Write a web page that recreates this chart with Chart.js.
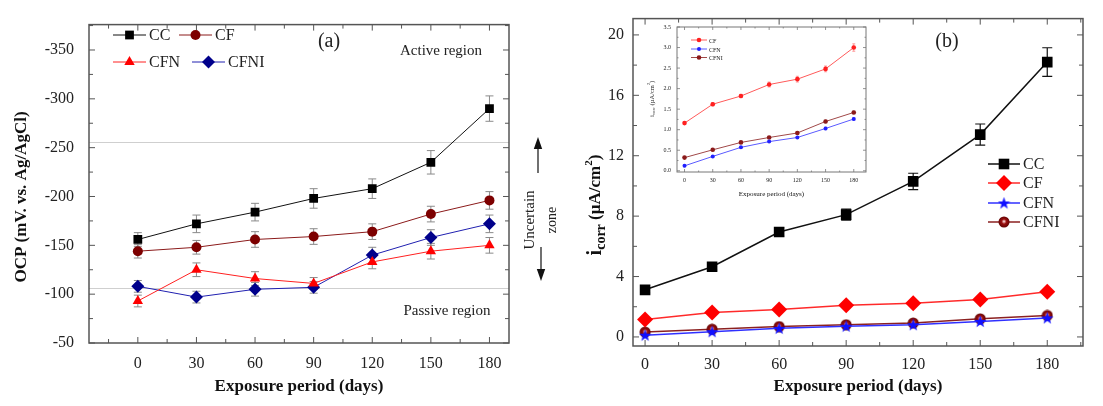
<!DOCTYPE html>
<html>
<head>
<meta charset="utf-8">
<script src="https://cdn.jsdelivr.net/npm/chart.js@4.4.0/dist/chart.umd.min.js"></script>
<style>
html, body { margin: 0; padding: 0; background: #fff; }
#wrap { position: relative; width: 1103px; height: 406px; overflow: hidden; background: #fff; }
canvas { position: absolute; }
#ocp { left: 0; top: 0; width: 560px; height: 406px; }
#icorr { left: 560px; top: 0; width: 543px; height: 406px; }
#inset { left: 640px; top: 15px; width: 240px; height: 190px; }
</style>
</head>
<body>
<div id="wrap">
  <canvas id="ocp" width="560" height="406"></canvas>
  <canvas id="icorr" width="543" height="406"></canvas>
  <canvas id="inset" width="240" height="190"></canvas>
</div>
<script>
// exposure period, days
const days = [0, 30, 60, 90, 120, 150, 180];

// (a) OCP, mV vs. Ag/AgCl
const ocpCC   = [-156, -172, -184, -198, -208, -235, -290];
const ocpCF   = [-144, -148, -156, -159, -164, -182, -196];
const ocpCFN  = [-93, -125, -116, -111, -133, -144, -150];
const ocpCFNI = [-108, -97, -105, -107, -140, -158, -172];
const ocpErrCC   = [7, 9, 9, 10, 10, 12, 13];
const ocpErrCF   = [7, 7, 8, 8, 8, 8, 9];
const ocpErrCFN  = [6, 7, 7, 6, 7, 8, 8];
const ocpErrCFNI = [6, 6, 7, 6, 8, 8, 9];
const ocpTicks = [-350, -300, -250, -200, -150, -100, -50];
// ASTM C876 limits converted to Ag/AgCl
const ocpLimits = [-256, -106];

// (b) corrosion current density, uA/cm2
const icorrCC   = [3.12, 4.65, 6.95, 8.1, 10.3, 13.4, 18.2];
const icorrCF   = [1.16, 1.62, 1.82, 2.1, 2.23, 2.48, 3.0];
const icorrCFN  = [0.12, 0.35, 0.57, 0.71, 0.81, 1.03, 1.26];
const icorrCFNI = [0.32, 0.51, 0.69, 0.81, 0.92, 1.2, 1.42];
const icorrErrCC   = [0.2, 0.22, 0.28, 0.37, 0.54, 0.7, 0.95];
const icorrErrCF   = [0.03, 0.04, 0.04, 0.06, 0.07, 0.07, 0.09];
const icorrErrCFN  = [0.02, 0.02, 0.02, 0.02, 0.02, 0.03, 0.03];
const icorrErrCFNI = [0.02, 0.02, 0.02, 0.02, 0.03, 0.03, 0.03];
const icorrTicks = [0, 4, 8, 12, 16, 20];
const insetTicks = [0, 0.5, 1, 1.5, 2, 2.5, 3, 3.5];

const serif = "'Liberation Serif', 'Times New Roman', serif";
const pts = vals => days.map((d, i) => ({ x: d, y: vals[i] }));

function starImage(size, color) {
    const c = document.createElement('canvas');
    c.width = c.height = size;
    const g = c.getContext('2d');
    g.fillStyle = color;
    g.beginPath();
    for (let k = 0; k < 10; k++) {
        const r = k % 2 ? size * 0.2 : size * 0.5;
        const a = -Math.PI / 2 + k * Math.PI / 5;
        g.lineTo(size / 2 + r * Math.cos(a), size / 2 + 0.5 + r * Math.sin(a));
    }
    g.closePath();
    g.fill();
    return c;
}

function ballImage(size) {
    const c = document.createElement('canvas');
    c.width = c.height = size;
    const g = c.getContext('2d');
    const grad = g.createRadialGradient(size * 0.5, size * 0.45, 0.5, size / 2, size / 2, size / 2);
    grad.addColorStop(0, '#f0c0c0');
    grad.addColorStop(0.35, '#9a1010');
    grad.addColorStop(1, '#5a0000');
    g.fillStyle = grad;
    g.beginPath();
    g.arc(size / 2, size / 2, size / 2 - 0.5, 0, Math.PI * 2);
    g.fill();
    return c;
}

function drawParts(ctx, parts, cx, cy, rotate) {
    ctx.save();
    ctx.translate(cx, cy);
    if (rotate) ctx.rotate(-Math.PI / 2);
    let total = 0;
    parts.forEach(p => {
        ctx.font = (p.weight || 'bold') + ' ' + p.size + 'px ' + serif;
        p.w = ctx.measureText(p.t).width;
        total += p.w;
    });
    let x = -total / 2;
    ctx.textAlign = 'left';
    ctx.textBaseline = 'middle';
    parts.forEach(p => {
        ctx.font = (p.weight || 'bold') + ' ' + p.size + 'px ' + serif;
        ctx.fillStyle = p.color || '#111';
        ctx.fillText(p.t, x, p.dy || 0);
        x += p.w;
    });
    ctx.restore();
}

function arrow(ctx, x, y0, y1, head) {
    const dir = Math.sign(y1 - y0);
    ctx.beginPath();
    ctx.moveTo(x, y0);
    ctx.lineTo(x, y1 - dir * head);
    ctx.stroke();
    ctx.beginPath();
    ctx.moveTo(x, y1);
    ctx.lineTo(x - head * 0.35, y1 - dir * head);
    ctx.lineTo(x + head * 0.35, y1 - dir * head);
    ctx.closePath();
    ctx.fill();
}

// inward ticks on all four sides + frame
const frameTicks = {
    id: 'frameTicks',
    afterDraw(chart, args, o) {
        const { ctx, chartArea: a, scales: { x, y } } = chart;
        ctx.save();
        ctx.strokeStyle = o.color;
        ctx.lineWidth = o.width;
        const seg = (x0, y0, x1, y1) => { ctx.beginPath(); ctx.moveTo(x0, y0); ctx.lineTo(x1, y1); ctx.stroke(); };
        const xMajor = x.ticks.map(t => t.value);
        const yMajor = y.ticks.map(t => t.value);
        const each = (scale, step, major, fn) => {
            const lo = Math.min(scale.min, scale.max), hi = Math.max(scale.min, scale.max);
            for (let v = Math.ceil(lo / step - 1e-9) * step; v <= hi + 1e-9; v += step) {
                const isMajor = major.some(m => Math.abs(m - v) < step / 10);
                fn(scale.getPixelForValue(v), isMajor ? o.major : o.minor);
            }
        };
        each(x, o.xStep, xMajor, (p, len) => { seg(p, a.bottom, p, a.bottom - len); seg(p, a.top, p, a.top + len); });
        each(y, o.yStep, yMajor, (p, len) => { seg(a.left, p, a.left + len, p); seg(a.right, p, a.right - len, p); });
        ctx.lineWidth = o.frameWidth;
        ctx.strokeRect(a.left, a.top, a.right - a.left, a.bottom - a.top);
        ctx.restore();
    }
};

const errorBars = {
    id: 'errorBars',
    beforeDatasetsDraw(chart, args, o) {
        const { ctx, scales: { x, y } } = chart;
        chart.data.datasets.forEach(ds => {
            if (!ds.err) return;
            ctx.save();
            ctx.strokeStyle = ds.errColor || o.color;
            ctx.lineWidth = o.width;
            ds.data.forEach((p, j) => {
                const px = x.getPixelForValue(p.x);
                const lo = y.getPixelForValue(p.y - ds.err[j]);
                const hi = y.getPixelForValue(p.y + ds.err[j]);
                ctx.beginPath();
                ctx.moveTo(px, lo); ctx.lineTo(px, hi);
                ctx.moveTo(px - o.cap, lo); ctx.lineTo(px + o.cap, lo);
                ctx.moveTo(px - o.cap, hi); ctx.lineTo(px + o.cap, hi);
                ctx.stroke();
            });
            ctx.restore();
        });
    }
};

const refLines = {
    id: 'refLines',
    beforeDatasetsDraw(chart, args, o) {
        if (!o.values) return;
        const { ctx, chartArea: a, scales: { y } } = chart;
        ctx.save();
        ctx.strokeStyle = o.color;
        ctx.lineWidth = 1;
        o.values.forEach(v => {
            const py = Math.round(y.getPixelForValue(v)) + 0.5;
            ctx.beginPath(); ctx.moveTo(a.left, py); ctx.lineTo(a.right, py); ctx.stroke();
        });
        ctx.restore();
    }
};

const sideLegend = {
    id: 'sideLegend',
    afterDraw(chart, args, o) {
        const { ctx } = chart;
        const dp = Chart.helpers && Chart.helpers.drawPoint;
        ctx.save();
        o.items.forEach(it => {
            const ds = chart.data.datasets[it.i];
            ctx.strokeStyle = ds.borderColor;
            ctx.lineWidth = ds.borderWidth;
            ctx.beginPath(); ctx.moveTo(it.x, it.y); ctx.lineTo(it.x + o.len, it.y); ctx.stroke();
            ctx.fillStyle = ds.pointBackgroundColor || ds.backgroundColor;
            ctx.strokeStyle = ds.pointBorderColor || ds.borderColor;
            ctx.lineWidth = ds.pointBorderWidth || 0;
            if (dp) dp(ctx, { pointStyle: ds.pointStyle, radius: ds.pointRadius, rotation: 0, borderWidth: ds.pointBorderWidth || 0 }, it.x + o.len / 2, it.y);
            ctx.fillStyle = '#222';
            ctx.font = o.size + 'px ' + serif;
            ctx.textAlign = 'left';
            ctx.textBaseline = 'middle';
            ctx.fillText(ds.label, it.x + o.len + o.gap, it.y + 1);
        });
        ctx.restore();
    }
};

const notes = {
    id: 'notes',
    afterDraw(chart, args, o) {
        const { ctx } = chart;
        ctx.save();
        (o.texts || []).forEach(t => {
            ctx.fillStyle = t.color || '#222';
            ctx.font = (t.weight || 'normal') + ' ' + t.size + 'px ' + serif;
            ctx.textAlign = 'center';
            ctx.textBaseline = 'middle';
            ctx.save();
            ctx.translate(t.x, t.y);
            if (t.rotate) ctx.rotate(-Math.PI / 2);
            ctx.fillText(t.text, 0, 0);
            ctx.restore();
        });
        (o.rich || []).forEach(r => drawParts(ctx, r.parts, r.x, r.y, r.rotate));
        ctx.strokeStyle = '#111';
        ctx.fillStyle = '#111';
        ctx.lineWidth = 1.2;
        (o.arrows || []).forEach(ar => arrow(ctx, ar.x, ar.y0, ar.y1, ar.head));
        ctx.restore();
    }
};

function axis(min, max, tickVals, opts) {
    return {
        type: 'linear',
        min: min,
        max: max,
        reverse: !!opts.reverse,
        afterBuildTicks: s => { s.ticks = tickVals.map(v => ({ value: v })); },
        afterFit: s => { if (opts.w) s.width = opts.w; if (opts.h) s.height = opts.h; },
        grid: { display: false, drawTicks: false },
        border: { display: false },
        ticks: {
            color: '#222',
            padding: opts.pad,
            font: { family: serif, size: opts.size },
            maxRotation: 0,
            autoSkip: false,
            callback: opts.fmt || (v => v)
        },
        title: opts.title ? {
            display: true,
            text: opts.title,
            color: '#111',
            font: { family: serif, size: opts.titleSize, weight: opts.titleWeight || 'bold' },
            padding: { top: 0, bottom: opts.titlePad }
        } : { display: false }
    };
}

const base = {
    responsive: false,
    animation: false,
    events: [],
    elements: { line: { tension: 0 } }
};

// ---------- (a) OCP ----------
new Chart(document.getElementById('ocp'), {
    type: 'line',
    data: {
        datasets: [
            { label: 'CC', data: pts(ocpCC), err: ocpErrCC, borderColor: '#111', backgroundColor: '#000', borderWidth: 1, pointStyle: 'rect', pointRadius: 6.2, pointBorderWidth: 0 },
            { label: 'CF', data: pts(ocpCF), err: ocpErrCF, borderColor: '#8b1a1a', backgroundColor: '#7d0000', borderWidth: 1, pointStyle: 'circle', pointRadius: 5, pointBorderWidth: 0 },
            { label: 'CFN', data: pts(ocpCFN), err: ocpErrCFN, borderColor: '#ff2020', backgroundColor: '#ff0000', borderWidth: 1, pointStyle: 'triangle', pointRadius: 6, pointBorderWidth: 0 },
            { label: 'CFNI', data: pts(ocpCFNI), err: ocpErrCFNI, borderColor: '#2020b0', backgroundColor: '#00008b', borderWidth: 1, pointStyle: 'rectRot', pointRadius: 6.5, pointBorderWidth: 0 }
        ]
    },
    options: {
        ...base,
        layout: { padding: { top: 8, right: 51, left: 0, bottom: 0 } },
        plugins: {
            legend: { display: false },
            tooltip: { enabled: false },
            frameTicks: { color: '#555', width: 1, frameWidth: 1.5, major: 6, minor: 4, xStep: 15, yStep: 25 },
            errorBars: { color: '#8a8a8a', width: 1, cap: 4 },
            refLines: { values: ocpLimits, color: '#cfcfcf' },
            sideLegend: {
                len: 33, gap: 3, size: 16,
                items: [
                    { i: 0, x: 113, y: 35 }, { i: 1, x: 179, y: 35 },
                    { i: 2, x: 113, y: 62 }, { i: 3, x: 192, y: 62 }
                ]
            },
            notes: {
                texts: [
                    { text: '(a)', x: 329, y: 42, size: 20 },
                    { text: 'Active region', x: 441, y: 51, size: 15 },
                    { text: 'Passive region', x: 447, y: 311, size: 15 },
                    { text: 'Uncertain', x: 530, y: 220, size: 15, rotate: true },
                    { text: 'zone', x: 552, y: 220, size: 14, rotate: true }
                ],
                rich: [
                    { x: 22, y: 197, rotate: true, parts: [{ t: 'OCP (mV. vs. Ag/AgCl)', size: 17 }] }
                ],
                arrows: [
                    { x: 538, y0: 173, y1: 137, head: 12 },
                    { x: 541, y0: 247, y1: 281, head: 12 }
                ]
            }
        },
        scales: {
            x: axis(-25, 190, days, { h: 63, pad: 11, size: 16, title: 'Exposure period (days)', titleSize: 17, titlePad: 9 }),
            y: axis(-376, -50, ocpTicks, { w: 89, pad: 15, size: 16, reverse: true })
        }
    },
    plugins: [refLines, errorBars, frameTicks, sideLegend, notes]
});

// ---------- (b) icorr ----------
new Chart(document.getElementById('icorr'), {
    type: 'line',
    data: {
        datasets: [
            { label: 'CC', data: pts(icorrCC), err: icorrErrCC, errColor: '#111', borderColor: '#111', backgroundColor: '#000', borderWidth: 1.5, pointStyle: 'rect', pointRadius: 7.5, pointBorderWidth: 0 },
            { label: 'CF', data: pts(icorrCF), borderColor: '#ff2a2a', backgroundColor: '#ff0000', borderWidth: 1.5, pointStyle: 'rectRot', pointRadius: 8, pointBorderWidth: 0 },
            { label: 'CFN', data: pts(icorrCFN), borderColor: '#3030ff', backgroundColor: '#0000ff', borderWidth: 1.5, pointStyle: starImage(13, '#1010ff'), pointRadius: 6, pointBorderWidth: 0 },
            { label: 'CFNI', data: pts(icorrCFNI), borderColor: '#8b2020', backgroundColor: '#7a0000', borderWidth: 1.5, pointStyle: ballImage(12), pointRadius: 6, pointBorderWidth: 0 }
        ]
    },
    options: {
        ...base,
        layout: { padding: { top: 10, right: 20, left: 0, bottom: 0 } },
        plugins: {
            legend: { display: false },
            tooltip: { enabled: false },
            frameTicks: { color: '#555', width: 1, frameWidth: 1.5, major: 6, minor: 4, xStep: 15, yStep: 2 },
            errorBars: { color: '#111', width: 1.2, cap: 5 },
            refLines: {},
            sideLegend: {
                len: 32, gap: 3, size: 16,
                items: [
                    { i: 0, x: 428, y: 164 }, { i: 1, x: 428, y: 183 },
                    { i: 2, x: 428, y: 203 }, { i: 3, x: 428, y: 222 }
                ]
            },
            notes: {
                texts: [
                    { text: '(b)', x: 387, y: 42, size: 20 }
                ],
                rich: [
                    { x: 36, y: 205, rotate: true, parts: [
                        { t: 'i', size: 20 }, { t: 'corr', size: 14, dy: 5 }, { t: ' (\u00b5A/cm', size: 17 },
                        { t: '2', size: 11, dy: -7 }, { t: ')', size: 17 }
                    ] }
                ]
            }
        },
        scales: {
            x: axis(-5.4, 196, days, { h: 60, pad: 9, size: 16, title: 'Exposure period (days)', titleSize: 17, titlePad: 9 }),
            y: axis(-0.6, 21.08, icorrTicks, { w: 73, pad: 9, size: 16 })
        }
    },
    plugins: [errorBars, frameTicks, sideLegend, notes]
});

// ---------- inset: CF, CFN, CFNI ----------
new Chart(document.getElementById('inset'), {
    type: 'line',
    data: {
        datasets: [
            { label: 'CF', data: pts(icorrCF), err: icorrErrCF, errColor: '#ff8080', borderColor: '#ff5a5a', backgroundColor: '#ff2020', borderWidth: 1, pointStyle: 'circle', pointRadius: 2.3, pointBorderWidth: 0 },
            { label: 'CFN', data: pts(icorrCFN), err: icorrErrCFN, errColor: '#8080ff', borderColor: '#5a5aff', backgroundColor: '#2020ff', borderWidth: 1, pointStyle: 'circle', pointRadius: 2, pointBorderWidth: 0 },
            { label: 'CFNI', data: pts(icorrCFNI), err: icorrErrCFNI, errColor: '#b06060', borderColor: '#a04848', backgroundColor: '#8b1a1a', borderWidth: 1, pointStyle: 'circle', pointRadius: 2.3, pointBorderWidth: 0 }
        ]
    },
    options: {
        ...base,
        layout: { padding: { top: 12, right: 14, left: 0, bottom: 0 } },
        plugins: {
            legend: { display: false },
            tooltip: { enabled: false },
            frameTicks: { color: '#777', width: 0.8, frameWidth: 1, major: 3, minor: 1.5, xStep: 15, yStep: 0.25 },
            errorBars: { color: '#999', width: 0.8, cap: 1.5 },
            refLines: {},
            sideLegend: {
                len: 16, gap: 2, size: 6,
                items: [
                    { i: 0, x: 51, y: 25 }, { i: 1, x: 51, y: 34 }, { i: 2, x: 51, y: 42.5 }
                ]
            },
            notes: {
                rich: [
                    { x: 12, y: 84, rotate: true, parts: [
                        { t: 'i', size: 7, weight: 'normal' }, { t: 'corr', size: 5, dy: 2, weight: 'normal' },
                        { t: ' (\u00b5A/cm', size: 6.5, weight: 'normal' }, { t: '2', size: 4, dy: -3, weight: 'normal' },
                        { t: ')', size: 6.5, weight: 'normal' }
                    ] }
                ]
            }
        },
        scales: {
            x: axis(-8, 193, days, { h: 33, pad: 5, size: 6, title: 'Exposure period (days)', titleSize: 7, titleWeight: 'normal', titlePad: 7 }),
            y: axis(-0.03, 3.5, insetTicks, { w: 37, pad: 6, size: 6, fmt: v => v.toFixed(1) })
        }
    },
    plugins: [errorBars, frameTicks, sideLegend, notes]
});
</script>
</body>
</html>
